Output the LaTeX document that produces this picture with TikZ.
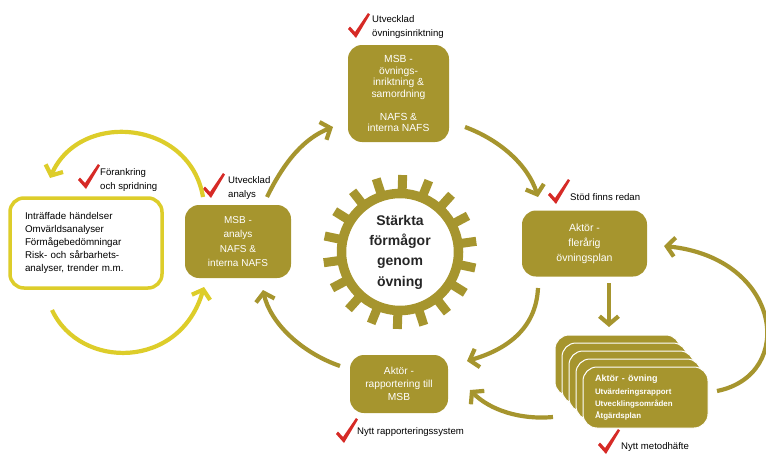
\documentclass[tikz,border=0pt]{standalone}
\usepackage{fontspec}
\setmainfont{Liberation Sans}
\usetikzlibrary{arrows.meta}
\definecolor{ol}{RGB}{166,149,46}
\definecolor{yl}{RGB}{221,205,42}
\definecolor{chkred}{RGB}{214,42,38}
\begin{document}
\begin{tikzpicture}[x=1pt,y=-1pt,
  box/.style={fill=ol, rounded corners=14pt, text=white, align=center,
    font=\fontsize{10.3}{11.5}\selectfont, inner sep=0pt},
  stackbox/.style={fill=ol, draw=white, line width=1pt, rounded corners=14pt,
    minimum width=125pt, minimum height=61pt, inner sep=0pt},
  arr/.style={draw=ol, line width=4.2pt, -{Straight Barb[length=8pt,width=19pt]}},
  yarr/.style={arr, draw=yl},
  lbl/.style={anchor=west, align=left, font=\fontsize{9.6}{14}\selectfont, inner sep=0pt},
  chk/.pic={\fill[chkred] (-7,-8) -- (-5,-10.5) -- (0,-5) -- (13,-24) -- (15,-22.5) -- (1,1) -- cycle;}
]
\useasboundingbox (0,0) rectangle (766,455);

% boxes
\node[box, minimum width=101pt, minimum height=97pt] (top) at (398.5,93.5)
  {MSB -\\övnings-\\inriktning \&\\samordning\\[11.5pt]NAFS \&\\interna NAFS};
\node[draw=yl, line width=3.5pt, rounded corners=14pt, fill=white, align=left,
  text width=122pt, inner xsep=15pt, minimum height=90pt,
  font=\fontsize{9.8}{13}\selectfont] (src) at (86,243)
  {Inträffade händelser\\Omvärldsanalyser\\Förmågebedömningar\\Risk- och sårbarhets-\\analyser, trender m.m.};
\node[box, minimum width=106pt, minimum height=73pt, font=\fontsize{10}{14.3}\selectfont] (ana) at (238,241.5)
  {MSB -\\analys\\NAFS \&\\interna NAFS};
\node[box, minimum width=125pt, minimum height=66pt, font=\fontsize{10.5}{15}\selectfont] (plan) at (584.5,243.5)
  {Aktör -\\flerårig\\övningsplan};
\node[box, minimum width=98pt, minimum height=58pt, font=\fontsize{10.2}{13}\selectfont] (rap) at (399,384)
  {Aktör -\\rapportering till\\MSB};

% stack
\foreach \k in {4,3,2,1}
  \node[stackbox] (stk\k) at ({645.5-7*\k},{397.5-8*\k}) {};
\node[stackbox, text=white, align=left, text width=101pt, inner xsep=12pt] (stk0) at (645.5,397.5)
  {{\fontsize{9}{12}\selectfont\bfseries Aktör - övning}\\[2pt]
   {\fontsize{7.9}{11.5}\selectfont\bfseries Utvärderingsrapport\\Utvecklingsområden\\Åtgärdsplan}};

% gear
\coordinate (gc) at (400,252);
\draw[ol, line width=9.5pt] (gc) circle[radius=58.5];
\foreach \a in {12,32,...,352}
  \draw[ol, line width=9pt, shift={(gc)}] (\a:60) -- (\a:77);
\node[align=center, font=\fontsize{14}{20.3}\selectfont\bfseries, text=black!85] (gear) at (gc)
  {Stärkta\\förmågor\\genom\\övning};

% check labels
\pic at (355,37) {chk};
\node[lbl] (l1) at (372,27.5) {Utvecklad\\övningsinriktning};
\pic at (85,188) {chk};
\node[lbl] (l2) at (100,180) {Förankring\\och spridning};
\pic at (210,197) {chk};
\node[lbl] (l3) at (228,188) {Utvecklad\\analys};
\pic at (555,203) {chk};
\node[lbl] (l4) at (570,197) {Stöd finns redan};
\pic at (343,442) {chk};
\node[lbl] (l5) at (357,432) {Nytt rapporteringssystem};
\pic at (605,453) {chk};
\node[lbl] (l6) at (621,447) {Nytt metodhäfte};

% arrow endpoints
\coordinate (a1s) at (267,197); \coordinate (a1e) at (333,127);
\coordinate (a2s) at (465,127); \coordinate (a2e) at (538,197);
\coordinate (a3s) at (609,283); \coordinate (a3e) at (609,327);
\coordinate (a4s) at (717,391); \coordinate (a4e) at (664,246);
\coordinate (a5s) at (538,288); \coordinate (a5e) at (467,361);
\coordinate (a6s) at (553,417); \coordinate (a6e) at (470,390);
\coordinate (a7s) at (340,366); \coordinate (a7e) at (263,290);
\coordinate (y1s) at (203,197); \coordinate (y1e) at (50,178);
\coordinate (y2s) at (52,310);  \coordinate (y2e) at (204,287);

\draw[arr] (a1s) .. controls (285,160) and (305,138) .. (a1e);
\draw[arr] (a2s) .. controls (500,140) and (528,165) .. (a2e);
\draw[arr] (a3s) -- (a3e);
\draw[arr] (a4s) .. controls (797,375) and (782,258) .. (a4e);
\draw[arr] (a5s) .. controls (536,330) and (505,350) .. (a5e);
\draw[arr] (a6s) .. controls (520,420) and (490,410) .. (a6e);
\draw[arr] (a7s) .. controls (300,352) and (270,322) .. (a7e);
\draw[yarr] (y1s) .. controls (190,120) and (80,110) .. (y1e);
\draw[yarr] (y2s) .. controls (80,370) and (180,370) .. (y2e);
\end{tikzpicture}
\end{document}
